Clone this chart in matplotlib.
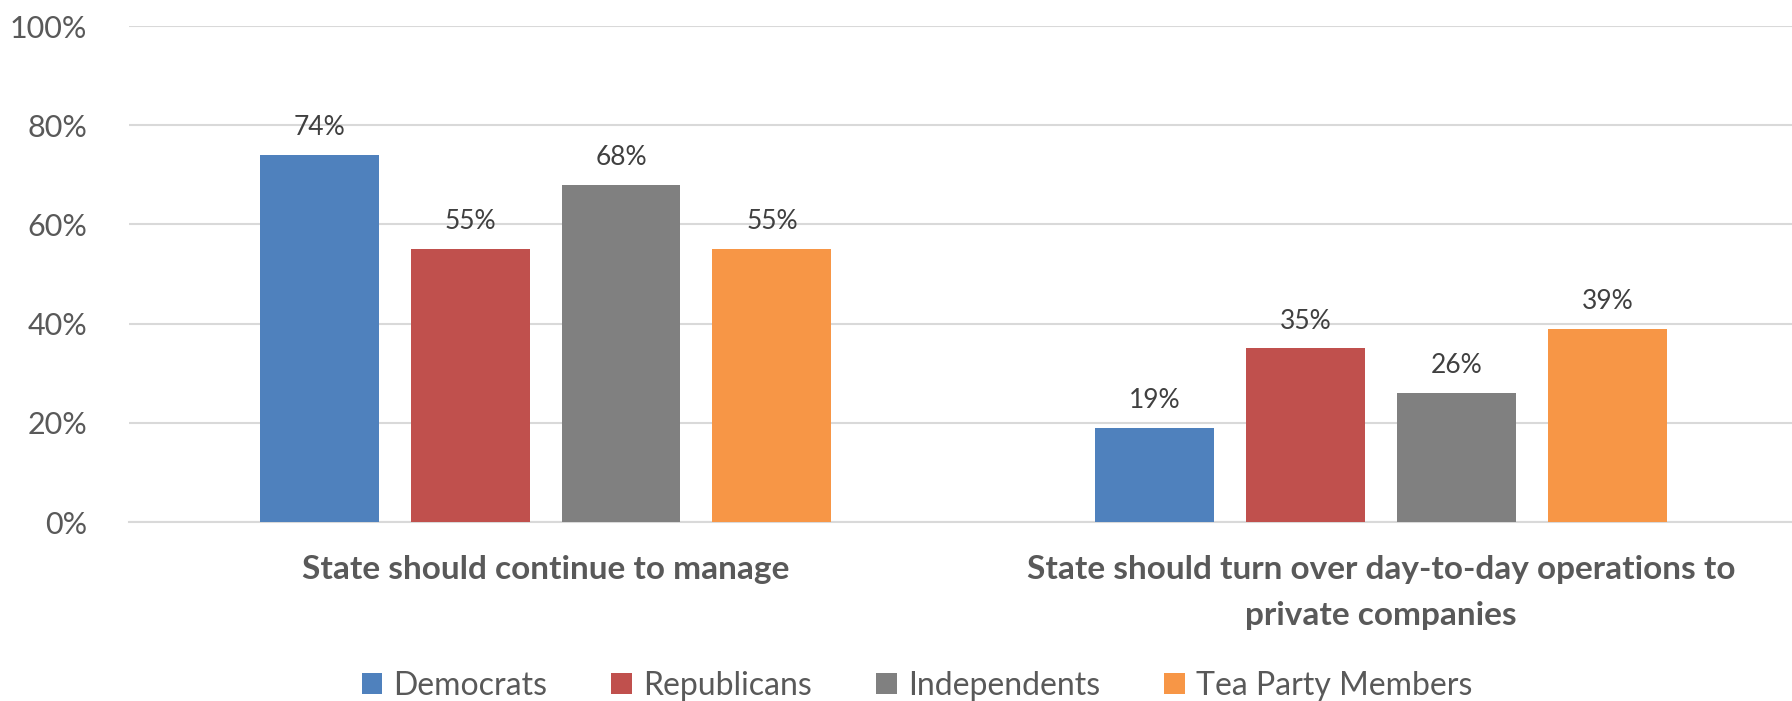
import matplotlib
matplotlib.use("Agg")
import matplotlib.pyplot as plt
import numpy as np

plt.rcParams['font.family'] = ['Lato', 'DejaVu Sans']

categories = ["State should continue to manage",
              "State should turn over day-to-day operations to\nprivate companies"]
groups = ["Democrats", "Republicans", "Independents", "Tea Party Members"]
democrats = [74, 19]
republicans = [55, 35]
independents = [68, 26]
tea_party = [55, 39]
colors = ["#4F81BD", "#C0504D", "#808080", "#F79646"]
yticks = [0, 20, 40, 60, 80, 100]

series = [democrats, republicans, independents, tea_party]

fig = plt.figure(figsize=(17.92, 7.01), dpi=100)
ax = fig.add_axes([129/1792, 1-522/701, 1-129/1792, (522-26)/701])

x = np.arange(len(categories))
step = 0.1806
width = 0.1423
for i, (vals, name, c) in enumerate(zip(series, groups, colors)):
    pos = x + (i - 1.5) * step
    bars = ax.bar(pos, vals, width, color=c, label=name, zorder=3)
    for b, v in zip(bars, vals):
        ax.text(b.get_x() + b.get_width()/2, v + 3.0, f"{v}%", ha="center", va="bottom",
                fontsize=19, color="#404040")

ax.set_xlim(-0.4986, 1.4918)
ax.set_ylim(0, 100)
ax.set_yticks(yticks)
ax.set_yticklabels([f"{t}%" for t in yticks], fontsize=22, color="#595959")
ax.yaxis.grid(True, color="#D9D9D9", linewidth=1.5, zorder=0)
ax.tick_params(axis="y", length=0, pad=30)
ax.tick_params(axis="x", length=0, pad=24)
ax.set_xticks(x)
ax.set_xticklabels(categories, fontsize=24, fontweight="bold", color="#595959", linespacing=1.7)
for s in ["top", "right", "left"]:
    ax.spines[s].set_visible(False)
ax.spines["bottom"].set_color("#D9D9D9")
ax.spines["bottom"].set_linewidth(1.5)

fig.legend(loc="center", bbox_to_anchor=(917/1792, 1-686/701), ncol=4, frameon=False,
           fontsize=23, handlelength=0.65, handleheight=0.65, handletextpad=0.35,
           columnspacing=2.0, labelcolor="#595959")

fig.savefig("out.png", dpi=100)
